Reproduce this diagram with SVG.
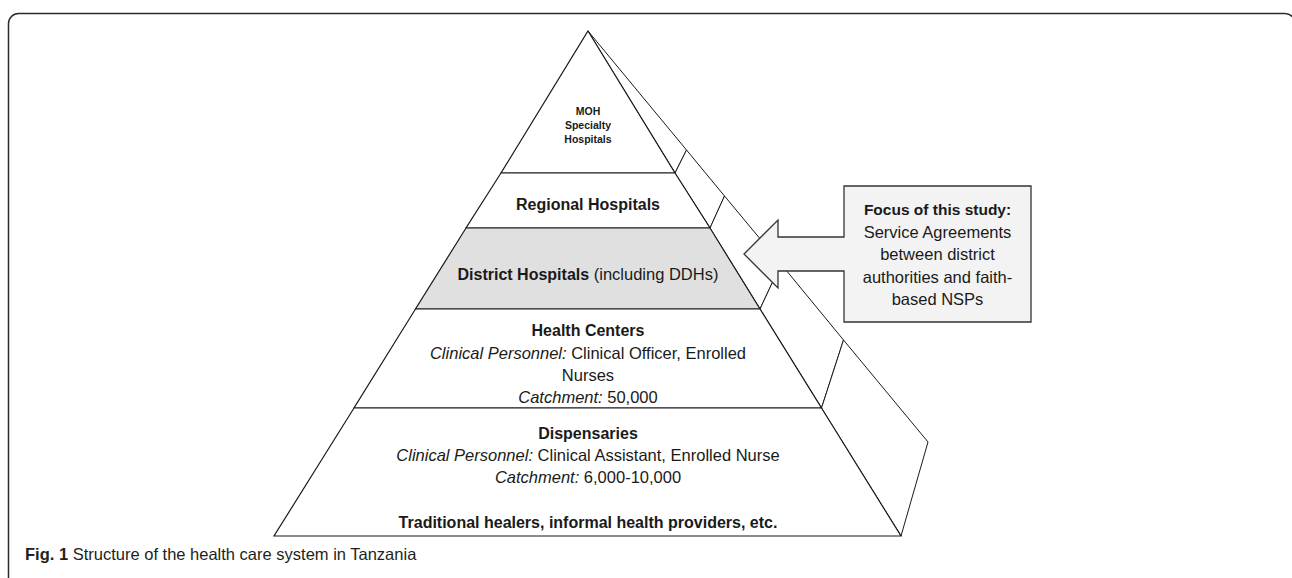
<svg xmlns="http://www.w3.org/2000/svg" width="1292" height="578" viewBox="0 0 1292 578">
<style>
  .edge { stroke: #1a1a1a; stroke-width: 1; stroke-linejoin: miter; }
  .tier { fill: #ffffff; stroke: #1a1a1a; stroke-width: 1.2; }
  .shade { fill: #e0e0e0; }
  .side { fill: #ffffff; stroke: #1a1a1a; stroke-width: 1; }
  .t { font-family: "Liberation Sans", Arial, sans-serif; fill: #1a1a1a; text-anchor: middle; }
  .b { font-weight: bold; font-size: 16px; }
  .r { font-size: 16.5px; }
  .i { font-style: italic; }
  .frame { fill: none; stroke: #2b2b2b; stroke-width: 1.5; }
  .callout { fill: #f3f3f3; stroke: #333333; stroke-width: 1.3; }
  .cap { font-family: "Liberation Sans", Arial, sans-serif; fill: #231f20; font-size: 16.5px; }
</style>
<rect class="frame" x="8.5" y="13.5" width="1286.5" height="600" rx="10" ry="10"/>

<g id="side-faces">
  <polygon class="side" points="588,31 675,173 686.5,150"/>
  <polygon class="side" points="675,173 686.5,150 724.5,196 710,228"/>
  <polygon class="side shade" points="710,228 724.5,196 781,264 760,309"/>
  <polygon class="side" points="760,309 781,264 843.5,340 821.5,408"/>
  <polygon class="side" points="821.5,408 843.5,340 928,442 901,536"/>
</g>

<g id="tier-moh">
  <polygon class="tier" points="588,31 675,173 501,173"/>
  <text class="t" font-weight="bold" font-size="10.5px" x="588" y="114.5">MOH</text>
  <text class="t" font-weight="bold" font-size="10.5px" x="588" y="128.5">Specialty</text>
  <text class="t" font-weight="bold" font-size="10.5px" x="588" y="142.5">Hospitals</text>
</g>

<g id="tier-regional">
  <polygon class="tier" points="501,173 675,173 710,228 466,228"/>
  <text class="t b" font-size="15.5px" x="588" y="209.5">Regional Hospitals</text>
</g>

<g id="tier-district">
  <polygon class="tier shade" points="466,228 710,228 760,309 415.5,309"/>
  <text class="t" x="588" y="279.5"><tspan class="b">District Hospitals</tspan><tspan class="r"> (including DDHs)</tspan></text>
</g>

<g id="tier-health-centers">
  <polygon class="tier" points="415.5,309 760,309 821.5,408 354,408"/>
  <text class="t b" x="588" y="336">Health Centers</text>
  <text class="t r" x="588" y="358.5"><tspan class="i">Clinical Personnel:</tspan> Clinical Officer, Enrolled</text>
  <text class="t r" x="588" y="380.5">Nurses</text>
  <text class="t r" x="588" y="402.5"><tspan class="i">Catchment:</tspan> 50,000</text>
</g>

<g id="tier-dispensaries">
  <polygon class="tier" points="354,408 821.5,408 901,536 274,536"/>
  <text class="t b" x="588" y="438.5">Dispensaries</text>
  <text class="t r" x="588" y="460.5"><tspan class="i">Clinical Personnel:</tspan> Clinical Assistant, Enrolled Nurse</text>
  <text class="t r" x="588" y="482.5"><tspan class="i">Catchment:</tspan> 6,000-10,000</text>
  <text class="t b" x="588" y="527.5">Traditional healers, informal health providers, etc.</text>
</g>

<g id="connectors">
  <g id="callout-focus">
    <path class="callout" d="M844,186 L1031,186 L1031,322 L844,322 L844,271 L778,271 L778,288 L744,254 L778,220 L778,237 L844,237 Z"/>
    <text class="t" font-weight="bold" font-size="15.5px" x="937.5" y="214.5">Focus of this study:</text>
    <text class="t r" x="937.5" y="237.5">Service Agreements</text>
    <text class="t r" x="937.5" y="260">between district</text>
    <text class="t r" x="937.5" y="282.5">authorities and faith-</text>
    <text class="t r" x="937.5" y="304.5">based NSPs</text>
  </g>
</g>

<text class="cap" x="25" y="560"><tspan font-weight="bold">Fig. 1</tspan> Structure of the health care system in Tanzania</text>
</svg>
